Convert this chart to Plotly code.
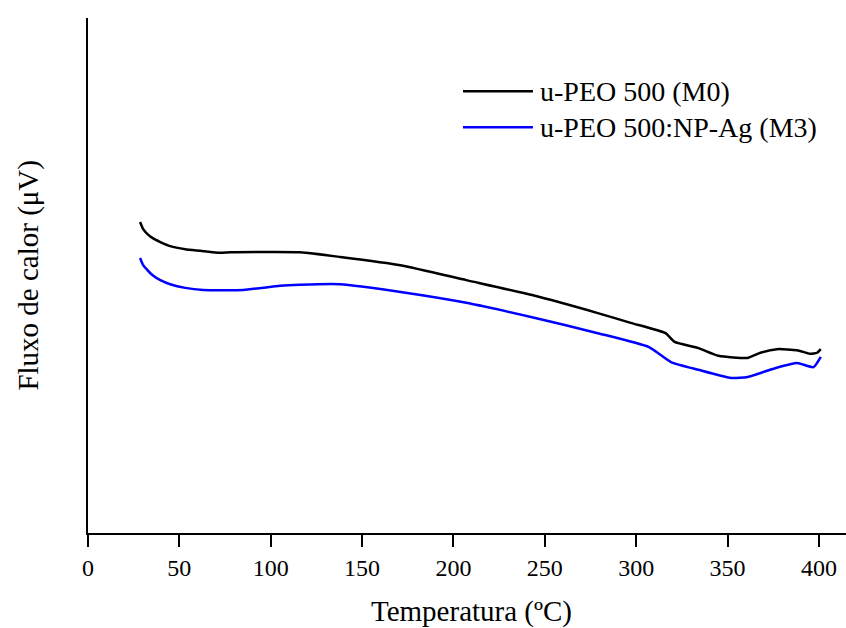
import plotly.graph_objects as go

# DSC heat-flow traces (arbitrary μV scale)
temp_m0 = [28.5, 30.2, 32.4, 35.2, 39.6, 45, 53.2, 61.4, 72.4, 78, 116, 138,
           171, 207, 243, 279, 297, 316, 321, 334, 345, 361, 368, 377, 388,
           395, 399, 401]
flux_m0 = [60.4, 59.0, 58.1, 57.3, 56.5, 55.7, 55.1, 54.8, 54.4, 54.5, 54.5,
           53.6, 52.0, 49.1, 46.2, 42.7, 40.8, 38.8, 37.1, 35.9, 34.4, 34.0,
           35.0, 35.7, 35.5, 34.8, 35.0, 35.7]

temp_m3 = [28.5, 30.2, 32.4, 35.2, 39.6, 45, 53.2, 63, 85, 105, 116, 138, 171,
           207, 243, 279, 307, 319, 334, 352, 361, 376, 388, 397, 401]
flux_m3 = [53.4, 52.0, 51.1, 50.1, 49.1, 48.3, 47.6, 47.2, 47.2, 48.0, 48.2,
           48.3, 46.8, 44.7, 41.9, 38.8, 36.1, 33.2, 31.7, 30.1, 30.3, 32.0,
           33.0, 32.2, 34.2]

series_names = ["u-PEO 500 (M0)", "u-PEO 500:NP-Ag (M3)"]
series_colors = ["#000000", "#0000ff"]
x_ticks = [0, 50, 100, 150, 200, 250, 300, 350, 400]

FONT = "Liberation Serif, Times New Roman, serif"

fig = go.Figure()
for tx, fy, name, color in zip([temp_m0, temp_m3], [flux_m0, flux_m3],
                               series_names, series_colors):
    fig.add_trace(go.Scatter(x=tx, y=fy, mode="lines", name=name,
                             line=dict(color=color, width=2.5, shape="spline",
                                       smoothing=0.5),
                             showlegend=False))

# hand-placed legend in paper coordinates
leg_y = [0.858, 0.788]
for name, color, yy in zip(series_names, series_colors, leg_y):
    fig.add_shape(type="line", xref="paper", yref="paper",
                  x0=0.4947, x1=0.587, y0=yy, y1=yy,
                  line=dict(color=color, width=2.5))
    fig.add_annotation(xref="paper", yref="paper", x=0.594, y=yy,
                       text=name, showarrow=False, xanchor="left",
                       yanchor="middle",
                       font=dict(family=FONT, size=28, color="black"))

# axis titles
fig.add_annotation(xref="paper", yref="paper", x=0.506, y=-0.153,
                   text="Temperatura (ºC)", showarrow=False,
                   xanchor="center", yanchor="middle",
                   font=dict(family=FONT, size=29, color="black"))
fig.add_annotation(xref="paper", yref="paper", x=-0.079, y=0.5,
                   text="Fluxo de calor (μV)", showarrow=False, textangle=-90,
                   xanchor="center", yanchor="middle",
                   font=dict(family=FONT, size=29, color="black"))

fig.update_layout(
    width=846, height=628,
    margin=dict(l=88, r=0, t=18, b=95),
    paper_bgcolor="white", plot_bgcolor="white",
    font=dict(family=FONT, size=24, color="black"),
    xaxis=dict(range=[0, 414.8], tickvals=x_ticks, ticks="outside",
               ticklen=12, tickwidth=2, tickcolor="black",
               showline=True, linecolor="black", linewidth=2,
               showgrid=False, zeroline=False,
               tickfont=dict(family=FONT, size=24, color="black")),
    yaxis=dict(range=[0, 100], showticklabels=False, ticks="",
               showline=True, linecolor="black", linewidth=2,
               showgrid=False, zeroline=False),
)

fig.write_html("out.html")
